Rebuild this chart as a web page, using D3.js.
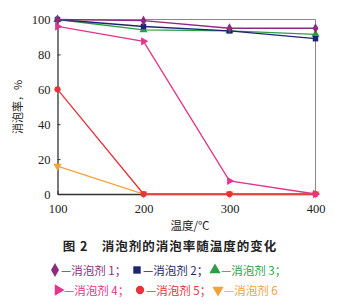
<!DOCTYPE html>
<html><head><meta charset="utf-8">
<script src="https://cdn.jsdelivr.net/npm/d3@7"></script>
<style>body{margin:0;background:#fff}</style>
</head><body>
<script>
const temps = [100, 200, 300, 400];
const yTicks = [0, 20, 40, 60, 80, 100];
const seriesNames = ["消泡剂 1", "消泡剂 2", "消泡剂 3", "消泡剂 4", "消泡剂 5", "消泡剂 6"];
const s1 = [100, 99.3, 95, 95];
const s2 = [100, 96, 93.5, 89];
const s3 = [100, 94, 93.5, 91.5];
const s4 = [96, 87.5, 7.5, 0];
const s5 = [60, 0, 0, 0];
const s6 = [16, 0, 0, 0];
const colors = ["#8B2C7E", "#1E2570", "#2E9E45", "#E2368A", "#E8333C", "#F4A23A"];
const shapes = [d3.symbolDiamond, d3.symbolSquare, d3.symbolTriangle, "right", d3.symbolCircle, "down"];
const allSeries = [s1, s2, s3, s4, s5, s6];

const W = 343, H = 307;
const svg = d3.select("body").append("svg").attr("width", W).attr("height", H);
const x = d3.scaleLinear().domain([100, 400]).range([57.5, 315.5]);
const y = d3.scaleLinear().domain([0, 100]).range([194, 19.5]);
const serif = "'Liberation Serif','DejaVu Serif',serif";
const cjk = "'Noto Sans CJK SC',sans-serif";

// frame top/right
svg.append("line").attr("x1", x(100)).attr("x2", x(400)).attr("y1", y(100)).attr("y2", y(100)).attr("stroke", "#888").attr("stroke-width", 1);
svg.append("line").attr("x1", x(400)).attr("x2", x(400)).attr("y1", y(100)).attr("y2", y(0)).attr("stroke", "#888").attr("stroke-width", 1);

const xAxis = svg.append("g").attr("transform", `translate(0,${y(0)})`)
  .call(d3.axisBottom(x).tickValues(temps).tickSizeInner(-3).tickSizeOuter(0).tickPadding(10));
const yAxis = svg.append("g").attr("transform", `translate(${x(100)},0)`)
  .call(d3.axisLeft(y).tickValues(yTicks).tickSizeInner(-3).tickSizeOuter(0).tickPadding(7));
[xAxis, yAxis].forEach(a => {
  a.select(".domain").attr("stroke", "#333").attr("stroke-width", 1.3);
  a.selectAll(".tick line").attr("stroke", "#333");
  a.selectAll("text").attr("font-family", serif).attr("font-size", 12.5).attr("fill", "#222");
});
xAxis.selectAll("text").attr("dy", "0.71em");

function symPath(shape, size) {
  if (shape === "right" || shape === "down") return d3.symbol(d3.symbolTriangle, size)();
  return d3.symbol(shape, size)();
}
function rot(shape) { return shape === "right" ? 90 : shape === "down" ? 180 : 0; }

const line = d3.line().x((d, i) => x(temps[i])).y(d => y(d));
allSeries.map((s, k) => k).reverse().forEach(k => {
  const s = allSeries[k];
  svg.append("path").attr("d", line(s)).attr("fill", "none").attr("stroke", colors[k]).attr("stroke-width", 1.3);
  svg.selectAll(null).data(s).enter().append("path")
    .attr("d", symPath(shapes[k], 30))
    .attr("transform", (d, i) => `translate(${x(temps[i])},${y(d)}) rotate(${rot(shapes[k])})`)
    .attr("fill", colors[k]);
});

// axis labels
svg.append("text").attr("x", 190).attr("y", 230).attr("text-anchor", "middle")
  .attr("font-family", cjk).attr("font-size", 11.5).attr("fill", "#222").text("温度/℃");
svg.append("text").attr("transform", "translate(22,107) rotate(-90)").attr("text-anchor", "middle")
  .attr("font-family", cjk).attr("font-size", 11).attr("fill", "#222").text("消泡率，%");

// caption
svg.append("text").attr("x", 170).attr("y", 251).attr("text-anchor", "middle")
  .attr("font-family", cjk).attr("font-size", 12.5).attr("font-weight", "bold").attr("fill", "#222")
  .attr("letter-spacing", 1)
  .text("图 2\u2003消泡剂的消泡率随温度的变化");

// legend
const legPos = [[55, 270], [137, 270], [215, 270], [58, 290], [140, 290], [218, 290]];
seriesNames.forEach((n, k) => {
  const [lx, ly] = legPos[k];
  svg.append("path").attr("d", symPath(shapes[k], 55))
    .attr("transform", `translate(${lx},${ly}) rotate(${rot(shapes[k])})`).attr("fill", colors[k]);
  svg.append("text").attr("x", lx + 6).attr("y", ly + 4.5)
    .attr("font-family", cjk).attr("font-size", 11.5).attr("fill", colors[k])
    .text("—" + n + (k === 5 ? "" : "；"));
});
</script>
</body></html>
